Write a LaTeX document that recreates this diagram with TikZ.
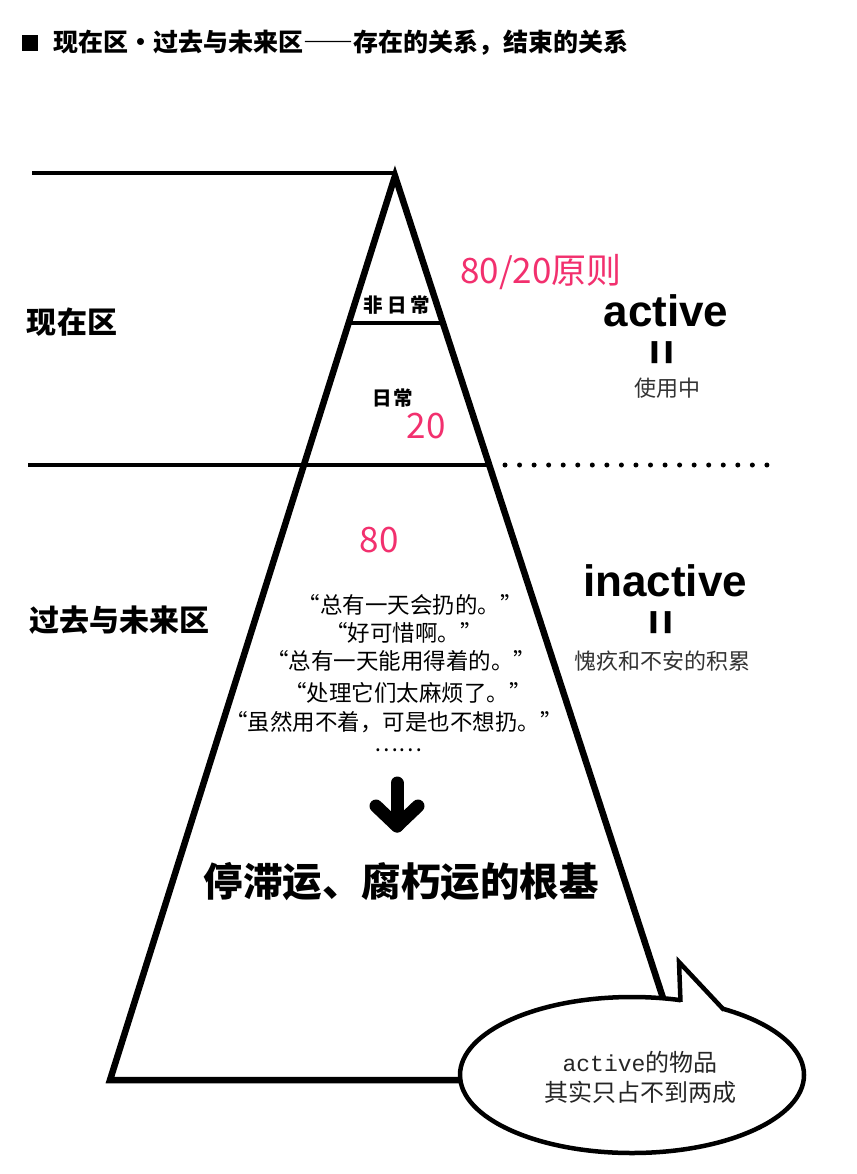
\documentclass[tikz,border=0pt]{standalone}
\usepackage{fontspec}
\setmainfont{Liberation Sans}
\newfontfamily\cjk{Noto Sans CJK SC}
\newfontfamily\cjkfw[RawFeature=+fwid]{Noto Sans CJK SC}
\newfontfamily\monof{Liberation Mono}
\usetikzlibrary{shapes.geometric}
\definecolor{rosered}{HTML}{F2306E}
\newcommand\vequal{\rotatebox{90}{\scalebox{1}[1.2]{=}}}
\begin{document}
\begin{tikzpicture}[x=1pt,y=-1pt,
  edge/.style={line width=6.5pt, line join=miter, line cap=butt},
  rule/.style={line width=4.2pt},
  lbl/.style={inner sep=0pt, outer sep=0pt, anchor=center},
  zone/.style={lbl, font=\cjk\bfseries\fontsize{30}{34}\selectfont},
  small/.style={lbl, font=\cjk\bfseries\fontsize{19.5}{22}\selectfont},
  note/.style={lbl, text=rosered, font=\cjk\fontsize{35}{40}\selectfont},
  big/.style={lbl, font=\bfseries\fontsize{44}{50}\selectfont},
  eqs/.style={lbl, font=\bfseries\fontsize{44}{48}\selectfont},
  desc/.style={lbl, font=\cjk\fontsize{22}{26}\selectfont, text=black!80},
  quote/.style={lbl, font=\cjk\fontsize{22.5}{26}\selectfont},
]
\useasboundingbox (0,0) rectangle (856,1174);
\fill[white] (0,0) rectangle (856,1174);

% title
\fill (22,35) rectangle (38,51);
\node[lbl, anchor=west, font=\cjkfw\bfseries\fontsize{25}{28}\selectfont] (title) at (53,43) {现在区·过去与未来区——存在的关系，结束的关系};

% coordinates of pyramid
\coordinate (apex) at (395,176);
\coordinate (bl) at (110,1080);
\coordinate (br) at (663,998);
\coordinate (be) at (462,1080);

% horizontal rules
\draw[rule] (32,173) -- (394,173);
\draw[rule] (28,465) -- (489,465);
\draw[rule] (349,323) -- (443,323);
\draw[line width=5pt, line cap=round, dash pattern=on 0pt off 14.55pt] (505,465) -- (768,465);

% speech bubble
\node[ellipse, draw, line width=4.5pt, minimum width=344pt, minimum height=156pt, inner sep=0pt] (bubble) at (632,1075) {};
\fill[white] (680.5,1006) -- (679,962) -- (726,1015) -- cycle;
\draw[line width=4.5pt, line join=miter] (680.5,1002) -- (679,962) -- (724,1010);

% pyramid
\draw[edge] (be) -- (bl) -- (apex) -- (br);

% zone labels
\node[zone] (now) at (72,322) {现在区};
\node[zone] (pastfuture) at (119,620) {过去与未来区};
\node[small] (nonday) at (397,305) {非\hspace{4pt}日\hspace{4pt}常};
\node[small] (daily) at (393,398) {日\hspace{2pt}常};

% pink notes
\node[note] (rule8020) at (541,272) {80/20原则};
\node[note] (n20) at (426,426) {20};
\node[note] (n80) at (379,540) {80};

% right labels
\node[big] (active) at (666,311) {active};
\node[eqs] (eq1) at (666,353) {\vequal};
\node[desc] (inuse) at (667,388) {使用中};
\node[big] (inactive) at (665,581) {inactive};
\node[eqs] (eq2) at (665,623) {\vequal};
\node[desc] (guilt) at (662,661) {愧疚和不安的积累};

% quotes
\node[quote] (q1) at (410,605) {“总有一天会扔的。”};
\node[quote] (q2) at (404,633) {“好可惜啊。”};
\node[quote] (q3) at (401,661) {“总有一天能用得着的。”};
\node[quote] (q4) at (408,693) {“处理它们太麻烦了。”};
\node[quote] (q5) at (394,722) {“虽然用不着，可是也不想扔。”};
\node[quote] (dots) at (398,750) {……};

% arrow
\coordinate (atop) at (397,783);
\coordinate (atip) at (397,826);
\draw[line width=13pt, line cap=round, line join=round] (atop) -- (atip);
\draw[line width=13pt, line cap=round, line join=round] (376,806) -- (atip) -- (418,806);

\node[lbl, font=\cjk\bfseries\fontsize{39.5}{44}\selectfont] (root) at (401,882) {停滞运、腐朽运的根基};

% bubble text
\node[lbl, align=center, font=\cjk\fontsize{24}{30}\selectfont, text=black!85] (btext) at (640,1077) {{\monof\fontsize{23}{30}\selectfont active}的物品\\其实只占不到两成};
\end{tikzpicture}
\end{document}
